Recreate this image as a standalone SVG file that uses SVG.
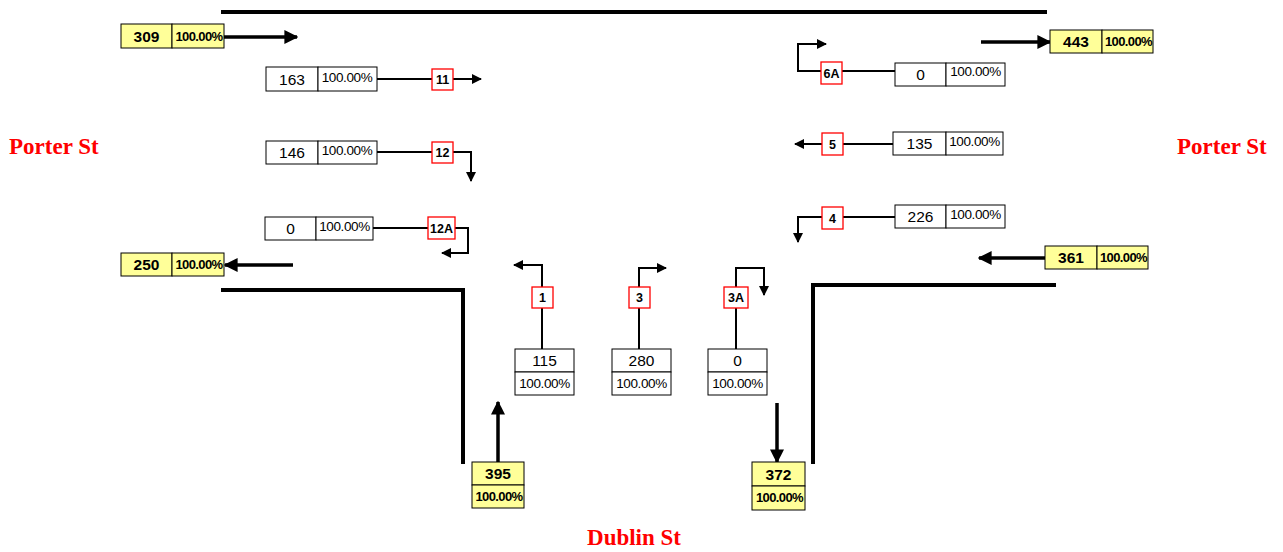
<svg xmlns="http://www.w3.org/2000/svg" width="1283" height="552" viewBox="0 0 1283 552">
<defs>
<marker id="ah" viewBox="0 0 10 10" refX="9" refY="5" markerWidth="4" markerHeight="4" orient="auto" markerUnits="strokeWidth"><path d="M0,0 L10,5 L0,10 z" fill="#000"/></marker>
<marker id="ahs" viewBox="0 0 10 10" refX="9" refY="5" markerWidth="5" markerHeight="5" orient="auto" markerUnits="strokeWidth"><path d="M0,0 L10,5 L0,10 z" fill="#000"/></marker>
<style>
.curb{stroke:#000;stroke-width:4;fill:none}
.big{stroke:#000;stroke-width:3.5;fill:none}
.thin{stroke:#000;stroke-width:2;fill:none}
.wb{fill:#fff;stroke:#000;stroke-width:1}
.yb{fill:#ffff99;stroke:#000;stroke-width:1}
.lb{fill:#fff;stroke:#ff0000;stroke-width:1.3}
.n{font-family:"Liberation Sans",Arial,sans-serif;font-size:15.5px;text-anchor:middle;fill:#000}
.nb{font-family:"Liberation Sans",Arial,sans-serif;font-size:15.5px;font-weight:bold;text-anchor:middle;fill:#000}
.p{font-family:"Liberation Sans",Arial,sans-serif;font-size:13.5px;text-anchor:middle;fill:#000;letter-spacing:-0.4px}
.pb{font-family:"Liberation Sans",Arial,sans-serif;font-size:13px;font-weight:bold;text-anchor:middle;fill:#000;letter-spacing:-0.6px}
.l{font-family:"Liberation Sans",Arial,sans-serif;font-size:12.5px;font-weight:bold;text-anchor:middle;fill:#000}
.st{font-family:"Liberation Serif","Times New Roman",serif;font-size:23px;font-weight:bold;fill:#ff0000}
</style>
</defs>
<rect width="1283" height="552" fill="#fff"/>
<g id="curbs">
<line class="curb" x1="221" y1="12" x2="1047" y2="12"/>
<polyline class="curb" points="221,290 463,290 463,464"/>
<polyline class="curb" points="813,464 813,285 1056,285"/>
</g>
<g id="connectors">
<line class="big" x1="224" y1="37" x2="297" y2="37" marker-end="url(#ah)"/>
<line class="big" x1="293" y1="265" x2="225" y2="265" marker-end="url(#ah)"/>
<line class="big" x1="498" y1="462" x2="498" y2="402" marker-end="url(#ah)"/>
<line class="big" x1="777" y1="403" x2="777" y2="462" marker-end="url(#ah)"/>
<line class="big" x1="981" y1="42" x2="1050" y2="42" marker-end="url(#ah)"/>
<line class="big" x1="1045" y1="258" x2="979" y2="258" marker-end="url(#ah)"/>
<line class="thin" x1="377" y1="79" x2="481" y2="79" marker-end="url(#ahs)"/>
<polyline class="thin" points="377,152 471,152 471,181" marker-end="url(#ahs)"/>
<polyline class="thin" points="373,228 468,228 468,253 442,253" marker-end="url(#ahs)"/>
<polyline class="thin" points="542,349 542,265 514,265" marker-end="url(#ahs)"/>
<polyline class="thin" points="639,349 639,268 666,268" marker-end="url(#ahs)"/>
<polyline class="thin" points="736,349 736,268 764,268 764,295" marker-end="url(#ahs)"/>
<polyline class="thin" points="895,71 798,71 798,44 826,44" marker-end="url(#ahs)"/>
<line class="thin" x1="893" y1="144" x2="795" y2="144" marker-end="url(#ahs)"/>
<polyline class="thin" points="895,217 798,217 798,242" marker-end="url(#ahs)"/>
</g>
<g id="in-west">
<rect class="yb" x="121" y="24" width="51" height="24"/><rect class="yb" x="172" y="24" width="52" height="24"/>
<text class="nb" x="146.5" y="42">309</text><text class="pb" x="199" y="41">100.00%</text>
</g>
<g id="out-west">
<rect class="yb" x="121" y="253" width="51" height="23"/><rect class="yb" x="172" y="253" width="52" height="23"/>
<text class="nb" x="146.5" y="270">250</text><text class="pb" x="199" y="269">100.00%</text>
</g>
<g id="in-east">
<rect class="yb" x="1045" y="246" width="52" height="23"/><rect class="yb" x="1097" y="246" width="51" height="23"/>
<text class="nb" x="1071" y="263">361</text><text class="pb" x="1123.5" y="262">100.00%</text>
</g>
<g id="out-east">
<rect class="yb" x="1050" y="30" width="52" height="23"/><rect class="yb" x="1102" y="30" width="51" height="23"/>
<text class="nb" x="1076" y="47">443</text><text class="pb" x="1128.5" y="46">100.00%</text>
</g>
<g id="in-south">
<rect class="yb" x="472" y="462" width="52" height="23"/><rect class="yb" x="472" y="485" width="52" height="23"/>
<text class="nb" x="498" y="479">395</text><text class="pb" x="499" y="501">100.00%</text>
</g>
<g id="out-south">
<rect class="yb" x="752" y="462" width="53" height="24"/><rect class="yb" x="752" y="486" width="53" height="24"/>
<text class="nb" x="778.5" y="480">372</text><text class="pb" x="779.5" y="502">100.00%</text>
</g>
<g id="m11">
<rect class="wb" x="266" y="67" width="52" height="24"/><rect class="wb" x="318" y="67" width="59" height="24"/>
<text class="n" x="292" y="85">163</text><text class="p" x="347" y="82">100.00%</text>
<rect class="lb" x="432" y="69" width="21" height="21"/><text class="l" x="442.5" y="84">11</text>
</g>
<g id="m12">
<rect class="wb" x="266" y="141" width="52" height="23"/><rect class="wb" x="318" y="141" width="59" height="23"/>
<text class="n" x="292" y="158">146</text><text class="p" x="347" y="155">100.00%</text>
<rect class="lb" x="432" y="142" width="21" height="21"/><text class="l" x="442.5" y="157">12</text>
</g>
<g id="m12A">
<rect class="wb" x="265" y="217" width="51" height="23"/><rect class="wb" x="316" y="217" width="57" height="23"/>
<text class="n" x="290.5" y="234">0</text><text class="p" x="344.5" y="231">100.00%</text>
<rect class="lb" x="428" y="217" width="27" height="22"/><text class="l" x="441.5" y="233">12A</text>
</g>
<g id="m1">
<rect class="wb" x="515" y="349" width="59" height="23"/><rect class="wb" x="515" y="372" width="59" height="23"/>
<text class="n" x="544.5" y="366">115</text><text class="p" x="544.5" y="388">100.00%</text>
<rect class="lb" x="532" y="287" width="21" height="21"/><text class="l" x="542.5" y="302">1</text>
</g>
<g id="m3">
<rect class="wb" x="612" y="349" width="59" height="23"/><rect class="wb" x="612" y="372" width="59" height="23"/>
<text class="n" x="641.5" y="366">280</text><text class="p" x="641.5" y="388">100.00%</text>
<rect class="lb" x="629" y="287" width="21" height="21"/><text class="l" x="639.5" y="302">3</text>
</g>
<g id="m3A">
<rect class="wb" x="708" y="349" width="59" height="23"/><rect class="wb" x="708" y="372" width="59" height="23"/>
<text class="n" x="737.5" y="366">0</text><text class="p" x="737.5" y="388">100.00%</text>
<rect class="lb" x="724" y="287" width="24" height="21"/><text class="l" x="736" y="302">3A</text>
</g>
<g id="m6A">
<rect class="wb" x="895" y="63" width="51" height="23"/><rect class="wb" x="946" y="63" width="59" height="23"/>
<text class="n" x="920.5" y="80">0</text><text class="p" x="975.5" y="76">100.00%</text>
<rect class="lb" x="821" y="62" width="21" height="22"/><text class="l" x="831.5" y="78">6A</text>
</g>
<g id="m5">
<rect class="wb" x="893" y="132" width="53" height="23"/><rect class="wb" x="946" y="132" width="57" height="23"/>
<text class="n" x="919.5" y="149">135</text><text class="p" x="974.5" y="146">100.00%</text>
<rect class="lb" x="822" y="133" width="21" height="22"/><text class="l" x="832.5" y="149">5</text>
</g>
<g id="m4">
<rect class="wb" x="895" y="205" width="51" height="23"/><rect class="wb" x="946" y="205" width="59" height="23"/>
<text class="n" x="920.5" y="222">226</text><text class="p" x="975.5" y="219">100.00%</text>
<rect class="lb" x="822" y="207" width="21" height="22"/><text class="l" x="832.5" y="223">4</text>
</g>
<g id="streets">
<text class="st" x="9" y="154">Porter St</text>
<text class="st" x="1177" y="154">Porter St</text>
<text class="st" x="634" y="545" text-anchor="middle">Dublin St</text>
</g>
</svg>
